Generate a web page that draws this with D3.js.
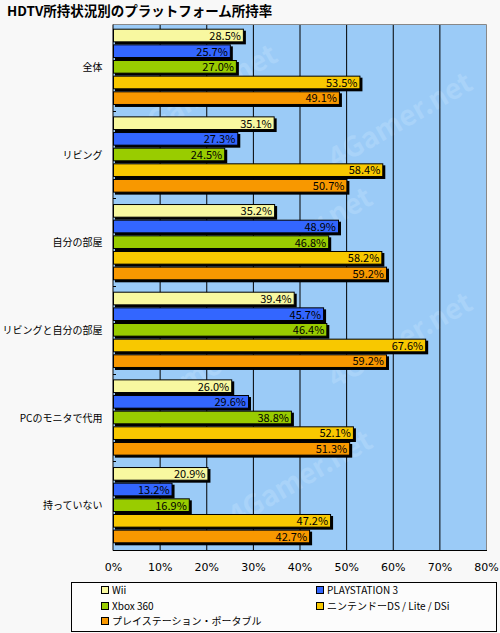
<!DOCTYPE html>
<html>
<head>
<meta charset="utf-8">
<script src="https://cdn.jsdelivr.net/npm/d3@7"></script>
<style>
  body { margin: 0; background: #f8f8f8; }
  svg { display: block; }
  text { font-family: "Noto Sans CJK JP", "DejaVu Sans", sans-serif; }
</style>
</head>
<body>
<script>
// Chart data
var categories = ["全体", "リビング", "自分の部屋", "リビングと自分の部屋", "PCのモニタで代用", "持っていない"];
var series = ["Wii", "PLAYSTATION 3", "Xbox 360", "ニンテンドーDS / Lite / DSi", "プレイステーション・ポータブル"];
var wii  = [28.5, 35.1, 35.2, 39.4, 26.0, 20.9];
var ps3  = [25.7, 27.3, 48.9, 45.7, 29.6, 13.2];
var xbox = [27.0, 24.5, 46.8, 46.4, 38.8, 16.9];
var ds   = [53.5, 58.4, 58.2, 67.6, 52.1, 47.2];
var psp  = [49.1, 50.7, 59.2, 59.2, 51.3, 42.7];
var ticks = [0, 10, 20, 30, 40, 50, 60, 70, 80];

var values = [wii, ps3, xbox, ds, psp];
var colors = ["#f8f8a0", "#3366ff", "#99cc00", "#f8c800", "#f89800"];

const width = 500;
const height = 633;

var svg = d3.select("body")
    .append("svg")
    .attr("width", width)
    .attr("height", height);

// Title
svg.append("text")
    .attr("x", 7)
    .attr("y", 16)
    .attr("font-size", 13.5)
    .attr("font-weight", "bold")
    .attr("fill", "#000")
    .text("HDTV所持状況別のプラットフォーム所持率");

// Scales
var x = d3.scaleLinear()
    .domain([0, 80])
    .range([113, 486]);
var y0 = d3.scaleBand()
    .domain(categories)
    .range([24, 550]);
var y1 = d3.scaleBand()
    .domain(series)
    .range([0, y0.bandwidth()])
    .paddingOuter(0.3);

// Plot background
svg.append("rect")
    .attr("x", x(0))
    .attr("y", 24)
    .attr("width", x(80) - x(0))
    .attr("height", 526)
    .attr("fill", "#9bcbf7");

// Watermark (kept inside the plot area)
var wmPos = [[205, 92], [400, 120], [300, 235], [205, 370], [400, 340], [300, 478]];
svg.append("g")
    .selectAll("text")
    .data(wmPos)
    .join("text")
    .attr("transform", d => `translate(${d[0]},${d[1]}) rotate(-30)`)
    .attr("text-anchor", "middle")
    .attr("dy", "0.35em")
    .attr("font-size", 28)
    .attr("font-weight", "bold")
    .attr("fill", "#a9d3f9")
    .text("4Gamer.net");

// Vertical grid lines
svg.append("g")
    .selectAll("line")
    .data(ticks.slice(1, -1))
    .join("line")
    .attr("x1", d => x(d) + 0.5)
    .attr("x2", d => x(d) + 0.5)
    .attr("y1", 24)
    .attr("y2", 550)
    .attr("stroke", "#000");

// Plot border (top/right gray, bottom black)
svg.append("path")
    .attr("d", `M${x(0)},24.5H${x(80) + 0.5}V550`)
    .attr("fill", "none")
    .attr("stroke", "#888");
svg.append("line")
    .attr("x1", x(0)).attr("x2", x(80) + 1)
    .attr("y1", 550.5).attr("y2", 550.5)
    .attr("stroke", "#000");

// Bars
var groups = svg.append("g")
    .selectAll("g")
    .data(categories)
    .join("g")
    .attr("transform", d => `translate(0, ${y0(d)})`);

var bh = y1.bandwidth() - 3;

groups.each(function(cat, ci) {
    var g = d3.select(this);
    var rows = series.map((s, si) => ({ s: s, v: values[si][ci], c: colors[si] }));

    // shadows
    g.selectAll("rect.shadow")
        .data(rows)
        .join("rect")
        .attr("class", "shadow")
        .attr("x", x(0) + 2)
        .attr("y", d => y1(d.s) + 2)
        .attr("width", d => x(d.v) - x(0) - 2)
        .attr("height", bh + 1)
        .attr("fill", "#000");

    // bars
    g.selectAll("rect.bar")
        .data(rows)
        .join("rect")
        .attr("class", "bar")
        .attr("x", x(0) + 0.5)
        .attr("y", d => y1(d.s) + 0.5)
        .attr("width", d => x(d.v) - x(0) - 3)
        .attr("height", bh)
        .attr("fill", d => d.c)
        .attr("stroke", "#000");

    // value labels
    g.selectAll("text.val")
        .data(rows)
        .join("text")
        .attr("class", "val")
        .attr("x", d => x(d.v) - 5)
        .attr("y", d => y1(d.s) + bh / 2 + 1)
        .attr("dy", "0.35em")
        .attr("text-anchor", "end")
        .attr("font-size", 11)
        .attr("fill", "#000")
        .text(d => d.v.toFixed(1) + "%");
});

// Left axis with category labels
var yAxis = d3.axisLeft(y0).tickSize(0).tickPadding(10);
var ya = svg.append("g")
    .attr("transform", `translate(${x(0) - 0.5}, 0)`)
    .call(yAxis);
ya.select(".domain").attr("stroke", "#000");
ya.selectAll("text")
    .attr("font-size", 10)
    .attr("fill", "#000")
    .style("font-family", "'Noto Sans CJK JP', sans-serif");

// small ticks at group boundaries
svg.append("g")
    .selectAll("line")
    .data(categories.slice(1))
    .join("line")
    .attr("x1", x(0))
    .attr("x2", x(0) + 3)
    .attr("y1", d => Math.round(y0(d)) - 0.5)
    .attr("y2", d => Math.round(y0(d)) - 0.5)
    .attr("stroke", "#000");

// Bottom axis labels
var xAxis = d3.axisBottom(x)
    .tickValues(ticks)
    .tickSize(0)
    .tickPadding(13)
    .tickFormat(d => d + "%");
var xa = svg.append("g")
    .attr("transform", "translate(0, 550)")
    .call(xAxis);
xa.select(".domain").remove();
xa.selectAll("text")
    .attr("font-size", 11)
    .attr("fill", "#000")
    .style("font-family", "'DejaVu Sans', sans-serif");

// Legend
var legend = svg.append("g");
legend.append("rect")
    .attr("x", 71.5)
    .attr("y", 582.5)
    .attr("width", 425)
    .attr("height", 49)
    .attr("fill", "#fcfcfc")
    .attr("stroke", "#000");

var legendPos = [[101, 590], [316, 590], [101, 606], [316, 606], [101, 621]];
var items = legend.selectAll("g.item")
    .data(series)
    .join("g")
    .attr("class", "item")
    .attr("transform", (d, i) => `translate(${legendPos[i][0]}, ${legendPos[i][1]})`);
items.append("rect")
    .attr("x", 0.5)
    .attr("y", -3.5)
    .attr("width", 7)
    .attr("height", 7)
    .attr("fill", (d, i) => colors[i])
    .attr("stroke", "#000");
items.append("text")
    .attr("x", 11)
    .attr("y", 0)
    .attr("dy", "0.35em")
    .attr("font-size", 10)
    .attr("fill", "#000")
    .text(d => d);
</script>
</body>
</html>
